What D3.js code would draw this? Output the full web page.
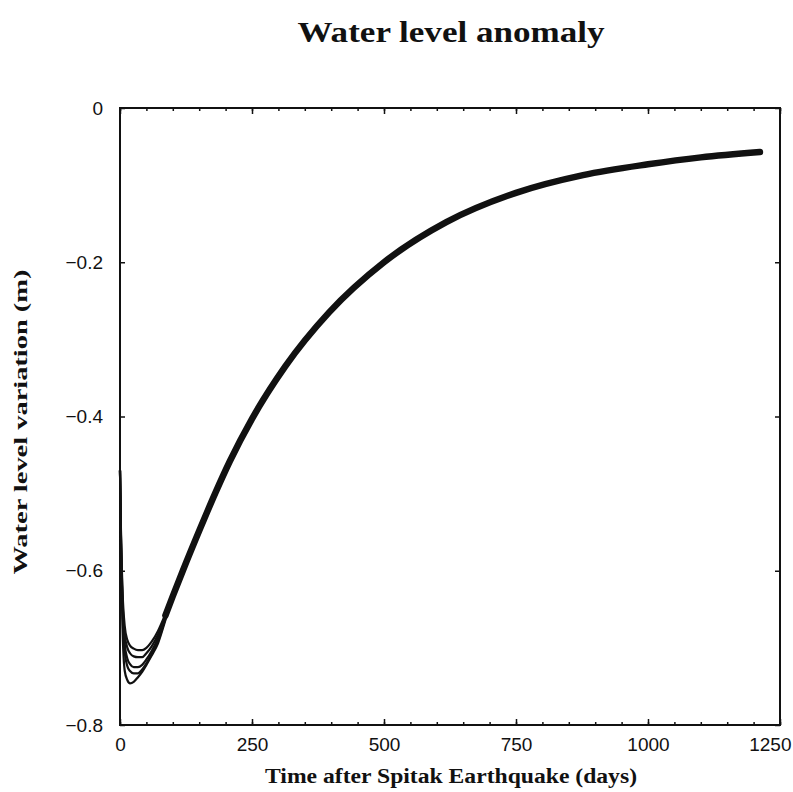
<!DOCTYPE html>
<html>
<head>
<meta charset="utf-8">
<script src="https://cdn.jsdelivr.net/npm/d3@7"></script>
<style>
  body { margin: 0; background: #fff; }
  text { fill: #111; }
</style>
</head>
<body>
<svg id="chart" width="793" height="792"></svg>
<script>
// Axis ticks
const xTickValues = [0, 250, 500, 750, 1000, 1250];
const yTickValues = [0, -0.2, -0.4, -0.6, -0.8];

// Early response of the individual wells (days after the earthquake)
const branchDays = [0, 2, 5, 9, 14, 19, 26, 34, 42, 50, 60, 72, 86, 100];
const wellA = [-0.47, -0.58, -0.68, -0.730, -0.742, -0.746, -0.744, -0.738, -0.731, -0.722, -0.710, -0.694, -0.664, -0.633];
const wellB = [-0.47, -0.57, -0.66, -0.706, -0.724, -0.730, -0.733, -0.733, -0.728, -0.720, -0.708, -0.691, -0.662, -0.632];
const wellC = [-0.47, -0.565, -0.65, -0.695, -0.714, -0.721, -0.725, -0.725, -0.722, -0.715, -0.704, -0.687, -0.660, -0.632];
const wellD = [-0.47, -0.56, -0.64, -0.683, -0.700, -0.707, -0.711, -0.712, -0.712, -0.707, -0.698, -0.683, -0.658, -0.631];
const wellE = [-0.47, -0.555, -0.63, -0.672, -0.690, -0.697, -0.701, -0.703, -0.703, -0.700, -0.692, -0.678, -0.656, -0.631];
const branches = [wellA, wellB, wellC, wellD, wellE];

// Common recovery curve
const tailDays  = [86, 100, 119, 152, 180, 208, 250, 313, 396, 500, 618, 750, 877, 1000, 1100, 1212];
const tailLevel = [-0.658, -0.633, -0.600, -0.545, -0.500, -0.458, -0.403, -0.335, -0.265, -0.200, -0.148, -0.110, -0.087, -0.073, -0.064, -0.057];

const svg = d3.select("#chart");
const margin = { left: 120, top: 108, right: 13, bottom: 67 };
const W = 793 - margin.left - margin.right;   // 660
const H = 792 - margin.top - margin.bottom;   // 617

const x = d3.scaleLinear().domain([0, 1250]).range([0, W]);
const y = d3.scaleLinear().domain([-0.8, 0]).range([H, 0]);

const g = svg.append("g").attr("transform", `translate(${margin.left},${margin.top})`);

const yFmt = d => d === 0 ? "0" : d3.format(".1f")(d);

// minor ticks every 50 days
const minorX = d3.range(0, 1251, 50);

g.append("g").attr("transform", `translate(0,${H})`)
  .call(d3.axisBottom(x).tickValues(minorX).tickSize(-3).tickFormat(""))
  .call(a => a.select(".domain").remove());
g.append("g")
  .call(d3.axisTop(x).tickValues(minorX).tickSize(-3).tickFormat(""))
  .call(a => a.select(".domain").remove());

// major axes
const xAxis = g.append("g").attr("transform", `translate(0,${H})`)
  .call(d3.axisBottom(x).tickValues(xTickValues).tickSize(-6).tickPadding(13).tickFormat(d3.format("d")));
xAxis.select(".domain").remove();
xAxis.selectAll("text").attr("font-family", "Liberation Sans, Arial, sans-serif").attr("font-size", 19);
// last label sits against the right edge of the page
xAxis.selectAll("text").filter(d => d === 1250).attr("text-anchor", "end").attr("dx", 11);

g.append("g").call(d3.axisTop(x).tickValues(xTickValues).tickSize(-6).tickFormat(""))
  .call(a => a.select(".domain").remove());

const yAxis = g.append("g")
  .call(d3.axisLeft(y).tickValues(yTickValues).tickSize(-5).tickPadding(17).tickFormat(yFmt));
yAxis.select(".domain").remove();
yAxis.selectAll("text").attr("font-family", "Liberation Sans, Arial, sans-serif").attr("font-size", 19);

g.append("g").attr("transform", `translate(${W},0)`)
  .call(d3.axisRight(y).tickValues(yTickValues).tickSize(-5).tickFormat(""))
  .call(a => a.select(".domain").remove());

g.selectAll(".tick line").attr("stroke", "#111").attr("stroke-width", 1.5);

// plot frame
g.append("rect")
  .attr("x", 0).attr("y", 0).attr("width", W).attr("height", H)
  .attr("fill", "none").attr("stroke", "#111").attr("stroke-width", 2);

// curves
const line = d3.line().x(d => x(d[0])).y(d => y(d[1])).curve(d3.curveMonotoneX);

branches.forEach(vals => {
  g.append("path")
    .datum(branchDays.map((t, i) => [t, vals[i]]))
    .attr("d", line)
    .attr("fill", "none").attr("stroke", "#111").attr("stroke-width", 2.2);
});

g.append("path")
  .datum(tailDays.map((t, i) => [t, tailLevel[i]]))
  .attr("d", line)
  .attr("fill", "none").attr("stroke", "#111").attr("stroke-width", 6.5)
  .attr("stroke-linecap", "round");

// titles
svg.append("text")
  .attr("x", 451).attr("y", 42)
  .attr("text-anchor", "middle")
  .attr("font-family", "Liberation Serif, Times New Roman, serif")
  .attr("font-weight", "bold").attr("font-size", 29)
  .attr("textLength", 307).attr("lengthAdjust", "spacingAndGlyphs")
  .text("Water level anomaly");

svg.append("text")
  .attr("x", 451).attr("y", 783)
  .attr("text-anchor", "middle")
  .attr("font-family", "Liberation Serif, Times New Roman, serif")
  .attr("font-weight", "bold").attr("font-size", 20)
  .attr("textLength", 372).attr("lengthAdjust", "spacingAndGlyphs")
  .text("Time after Spitak Earthquake (days)");

svg.append("text")
  .attr("transform", "translate(27,422) rotate(-90)")
  .attr("text-anchor", "middle")
  .attr("font-family", "Liberation Serif, Times New Roman, serif")
  .attr("font-weight", "bold").attr("font-size", 18)
  .attr("textLength", 305).attr("lengthAdjust", "spacingAndGlyphs")
  .text("Water level variation (m)");
</script>
</body>
</html>
